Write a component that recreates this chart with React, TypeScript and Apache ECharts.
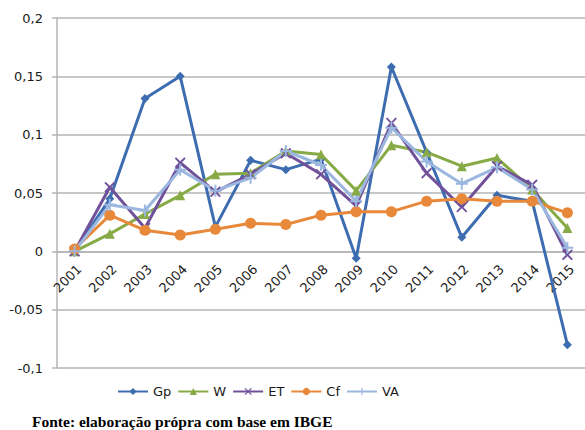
import React, { useEffect, useRef } from "react";
import * as echarts from "echarts";

const years = ["2001","2002","2003","2004","2005","2006","2007","2008","2009","2010","2011","2012","2013","2014","2015"];
const gp = [0.0, 0.045, 0.131, 0.15, 0.021, 0.078, 0.07, 0.079, -0.006, 0.158, 0.085, 0.012, 0.048, 0.043, -0.08];
const w = [0.0, 0.015, 0.032, 0.048, 0.066, 0.067, 0.086, 0.083, 0.052, 0.091, 0.085, 0.073, 0.08, 0.053, 0.02];
const et = [0.0, 0.055, 0.02, 0.076, 0.051, 0.066, 0.084, 0.066, 0.039, 0.11, 0.067, 0.038, 0.073, 0.057, -0.003];
const cf = [0.002, 0.031, 0.018, 0.014, 0.019, 0.024, 0.023, 0.031, 0.034, 0.034, 0.043, 0.045, 0.043, 0.043, 0.033];
const va = [0.0, 0.04, 0.035, 0.07, 0.052, 0.063, 0.086, 0.074, 0.043, 0.106, 0.077, 0.058, 0.072, 0.053, 0.003];

const seriesNames = ["Gp", "W", "ET", "Cf", "VA"];
const seriesData = [gp, w, et, cf, va];
const colors = ["#3D6DB0", "#86AA45", "#70519A", "#E8883A", "#9BB7DF"];
const X_SYMBOL = "path://M0,1.2L1.2,0L5,3.8L8.8,0L10,1.2L6.2,5L10,8.8L8.8,10L5,6.2L1.2,10L0,8.8L3.8,5Z";
const PLUS_SYMBOL = "path://M4.2,0H5.8V4.2H10V5.8H5.8V10H4.2V5.8H0V4.2H4.2Z";
const symbols = ["diamond", "triangle", X_SYMBOL, "circle", PLUS_SYMBOL];
const symbolSizes = [9, 10, 11, 11, 12];

const FONT = "DejaVu Sans";

export default function App() {
  const ref = useRef<HTMLDivElement>(null);
  useEffect(() => {
    if (!ref.current) return;
    const chart = echarts.init(ref.current, undefined, { renderer: "svg" });
    chart.setOption({
      animation: false,
      backgroundColor: "#ffffff",
      grid: { left: 57, top: 18, width: 535.7, height: 350 },
      legend: {
        left: 112,
        top: 380,
        itemWidth: 30,
        itemHeight: 9,
        itemGap: 6,
        textStyle: { fontFamily: FONT, fontSize: 13, color: "#1a1a1a" },
        data: seriesNames,
      },
      xAxis: {
        type: "category",
        data: years,
        boundaryGap: true,
        position: "bottom",
        offset: -116.7,
        axisLine: { onZero: false, lineStyle: { color: "#B4B4B4", width: 1.5 } },
        axisTick: { show: false },
        axisLabel: {
          rotate: 45,
          margin: 11,
          interval: 0,
          verticalAlign: "top",
          fontFamily: FONT,
          fontSize: 13,
          color: "#1a1a1a",
        },
      },
      yAxis: {
        type: "value",
        min: -0.1,
        max: 0.2,
        interval: 0.05,
        axisLine: { show: true, lineStyle: { color: "#B4B4B4", width: 1.5 } },
        axisTick: { show: true, length: 5, lineStyle: { color: "#B4B4B4", width: 1.5 } },
        splitLine: { lineStyle: { color: "#B4B4B4", width: 1.5 } },
        axisLabel: {
          margin: 14,
          fontFamily: FONT,
          fontSize: 13,
          color: "#1a1a1a",
          formatter: (v: number) => String(parseFloat(v.toFixed(3))).replace(".", ","),
        },
      },
      series: seriesNames.map((name, i) => ({
        name,
        type: "line",
        data: seriesData[i],
        symbol: symbols[i],
        symbolSize: symbolSizes[i],
        showAllSymbol: true,
        lineStyle: { color: colors[i], width: 3 },
        itemStyle: { color: colors[i] },
        emphasis: { disabled: true },
      })),
      graphic: [
        {
          type: "text",
          left: 32,
          top: 413,
          style: {
            text: "Fonte: elaboração própra com base em IBGE",
            font: "bold 15.5px 'Liberation Serif'",
            fill: "#000000",
          },
        },
      ],
    });
    return () => chart.dispose();
  }, []);
  return (
    <div
      ref={ref}
      style={{ position: "fixed", left: 0, top: 0, width: 585, height: 430 }}
    />
  );
}
